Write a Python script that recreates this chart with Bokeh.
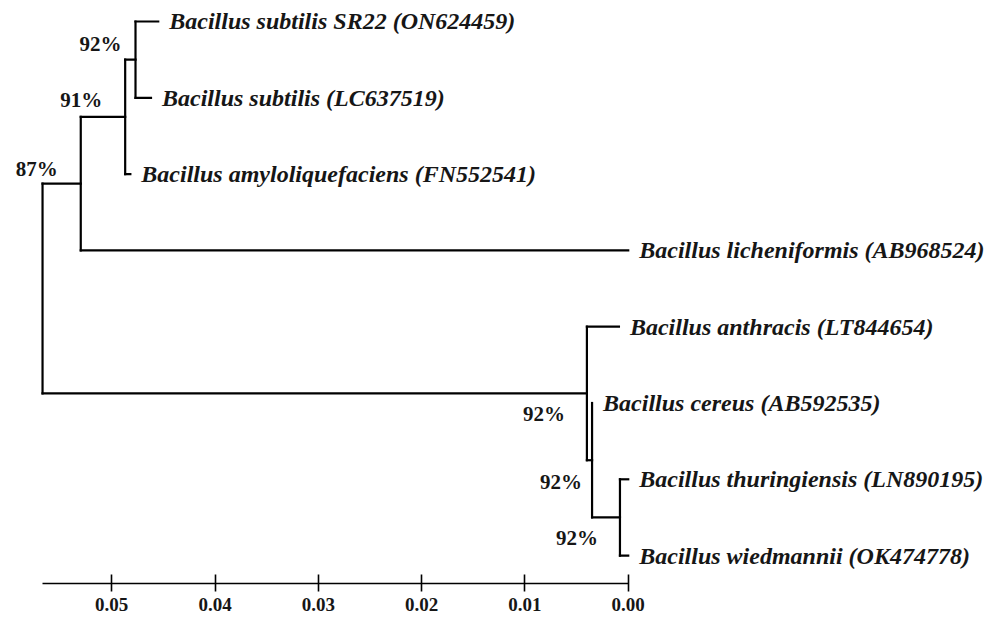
from bokeh.plotting import figure
from bokeh.models import Range1d, LinearAxis, FixedTicker, PrintfTickFormatter, ColumnDataSource
from bokeh.core.properties import value
from bokeh.embed import file_html
from bokeh.resources import INLINE

# ---- data ----
taxa = [
    "Bacillus subtilis SR22 (ON624459)",
    "Bacillus subtilis (LC637519)",
    "Bacillus amyloliquefaciens (FN552541)",
    "Bacillus licheniformis (AB968524)",
    "Bacillus anthracis (LT844654)",
    "Bacillus cereus (AB592535)",
    "Bacillus thuringiensis (LN890195)",
    "Bacillus wiedmannii (OK474778)",
]
tip_dist = [0.0455, 0.0462, 0.0482, 0.0, 0.0009, 0.0035, 0.0, 0.0]

node_names = ["n92", "n91", "n87", "nC", "nB", "nA", "root"]
node_children = [[0, 1], ["n92", 2], ["n91", 3], [6, 7], [5, "nC"], [4, "nB"], ["n87", "nA"]]
node_dist = [0.0477, 0.0487, 0.0530, 0.0008, 0.0035, 0.0040, 0.0567]
bootstrap = ["92%", "91%", "87%", "92%", "92%", "92%", ""]

tick_values = [0.05, 0.04, 0.03, 0.02, 0.01, 0.00]

# ---- style ----
boot_dx = [-14, -23, -23, -22, -10, -22, 0]
boot_dy = [-16, -17, -15, 21, 22, 21, 0]
FONT = "Liberation Serif"
INK = "#161616"

# ---- layout of tree ----
nx, ny = {}, {}
def pos(c):
    if isinstance(c, int):
        return tip_dist[c], float(c)
    return nx[c], ny[c]

x0s, y0s, x1s, y1s = [], [], [], []
for name, kids, d in zip(node_names, node_children, node_dist):
    pts = [pos(k) for k in kids]
    ys = [pt[1] for pt in pts]
    nx[name] = d
    ny[name] = (min(ys) + max(ys)) / 2.0
    # vertical connector
    x0s.append(d); x1s.append(d); y0s.append(min(ys)); y1s.append(max(ys))
    # horizontal branches
    for (cx, cy) in pts:
        if abs(cx - d) > 1e-12:
            x0s.append(d); x1s.append(cx); y0s.append(cy); y1s.append(cy)

p = figure(frame_width=997, frame_height=583,
           x_range=Range1d(0.06077, -0.03575), y_range=Range1d(7.3657, -0.2752),
           output_backend="svg", toolbar_location=None,
           x_axis_location=None, y_axis_location=None,
           min_border=0, outline_line_color=None)
p.xgrid.visible = False
p.ygrid.visible = False
p.background_fill_color = "white"
p.border_fill_color = "white"

p.segment(x0=x0s, y0=y0s, x1=x1s, y1=y1s, line_color="black", line_width=2.2, line_cap="square")

# leaf labels
p.text(x=tip_dist, y=list(range(len(taxa))), text=taxa, x_offset=11,
       text_align="left", text_baseline="middle",
       text_font=value(FONT), text_font_style="bold italic", text_font_size="24px",
       text_color=INK)

# bootstrap labels
bsrc = ColumnDataSource(dict(
    x=[nx[n] for n, b in zip(node_names, bootstrap) if b],
    y=[ny[n] for n, b in zip(node_names, bootstrap) if b],
    t=[b for b in bootstrap if b],
    dx=[dx for dx, b in zip(boot_dx, bootstrap) if b],
    dy=[dy for dy, b in zip(boot_dy, bootstrap) if b],
))
p.text(x="x", y="y", text="t", x_offset="dx", y_offset="dy", source=bsrc,
       text_align="right", text_baseline="middle",
       text_font=value(FONT), text_font_style="bold", text_font_size="21px",
       text_color=INK)

# scale axis
ax = LinearAxis(ticker=FixedTicker(ticks=tick_values),
                formatter=PrintfTickFormatter(format="%.2f"),
                bounds=(0.0, nx["root"]))
ax.axis_line_color = "black"
ax.axis_line_width = 1.6
ax.major_tick_line_color = "black"
ax.major_tick_line_width = 1.6
ax.major_tick_in = 9
ax.major_tick_out = 8
ax.minor_tick_line_color = None
ax.major_label_standoff = 6
ax.major_label_text_font = FONT
ax.major_label_text_font_style = "bold"
ax.major_label_text_font_size = "19px"
ax.major_label_text_color = INK
p.add_layout(ax, "below")

open("out.html", "w").write(file_html(p, INLINE))
